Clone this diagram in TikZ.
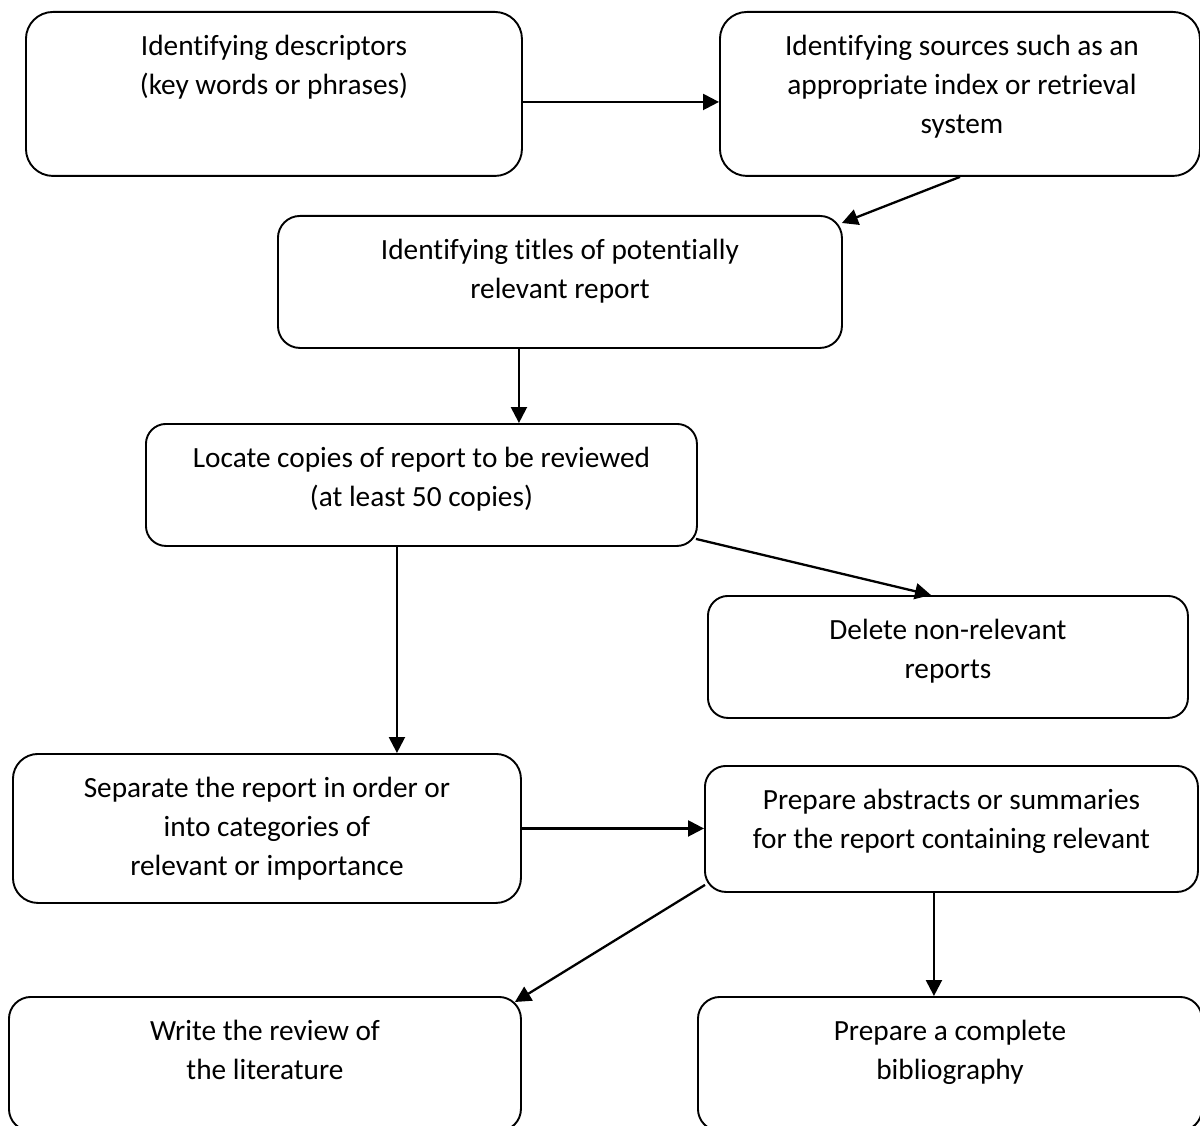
\documentclass[tikz,border=0pt]{standalone}
\usepackage{fontspec}
\setmainfont[Ligatures={NoCommon}]{Carlito}
\usetikzlibrary{arrows.meta,calc}
\tikzset{
  bx/.style={draw, line width=1.9pt, inner sep=0pt, anchor=north west},
  tx/.style={anchor=north, inner sep=0pt, align=center, font=\fontsize{29.3}{39}\selectfont},
  arr/.style={line width=2.3pt, -{Triangle[length=16pt,width=16pt]}}
}
\begin{document}
\begin{tikzpicture}[x=1pt,y=-1pt]
\path[use as bounding box, fill=white] (0,0) rectangle (1200,1126);

% boxes
\node[bx, minimum width=496pt, minimum height=164pt, rounded corners=27pt] (A) at (25,11) {};
\node[bx, minimum width=480pt, minimum height=164pt, rounded corners=27pt] (B) at (719,11) {};
\node[bx, minimum width=564pt, minimum height=132pt, rounded corners=22pt] (C) at (277,215) {};
\node[bx, minimum width=551pt, minimum height=122pt, rounded corners=20pt] (D) at (145,423) {};
\node[bx, minimum width=480pt, minimum height=122pt, rounded corners=20pt] (E) at (707,595) {};
\node[bx, minimum width=508pt, minimum height=149pt, rounded corners=25pt] (F) at (12,753) {};
\node[bx, minimum width=493pt, minimum height=126pt, rounded corners=21pt] (G) at (704,765) {};
\node[bx, minimum width=512pt, minimum height=134pt, rounded corners=22pt] (H) at (8,996) {};
\node[bx, minimum width=504pt, minimum height=134pt, rounded corners=22pt] (I) at (697,996) {};

% texts
\node[tx] (At) at ([yshift=-16.7pt]A.north) {\strut Identifying descriptors\\(key words or phrases)};
\node[tx] (Bt) at ([xshift=2pt,yshift=-16.7pt]B.north) {\strut Identifying sources such as an\\appropriate index or retrieval\\system};
\node[tx] (Ct) at ([yshift=-16.7pt]C.north) {\strut Identifying titles of potentially\\relevant report};
\node[tx] (Dt) at ([yshift=-16.7pt]D.north) {\strut Locate copies of report to be reviewed\\(at least 50 copies)};
\node[tx] (Et) at ([yshift=-16.7pt]E.north) {\strut Delete non-relevant\\reports};
\node[tx] (Ft) at ([yshift=-16.7pt]F.north) {\strut Separate the report in order or\\into categories of\\relevant or importance};
\node[tx] (Gt) at ([yshift=-16.7pt]G.north) {\strut Prepare abstracts or summaries\\for the report containing relevant};
\node[tx] (Ht) at ([yshift=-16.7pt]H.north) {\strut Write the review of\\the literature};
\node[tx] (It) at ([xshift=0pt,yshift=-16.7pt]I.north) {\strut Prepare a complete\\bibliography};

% connectors
\draw[arr] ([yshift=-8pt]A.east) -- ([yshift=-8pt]B.west);
\draw[arr] (B.south) -- ([xshift=-1pt,yshift=-8pt]C.north east);
\draw[arr] ([xshift=-41pt]C.south) -- ([xshift=-41pt]C.south |- D.north);
\draw[arr] ([xshift=-2pt,yshift=8pt]D.south east) -- ([xshift=-17pt]E.north);
\draw[arr] ([xshift=-24.5pt]D.south) -- ([xshift=-24.5pt]D.south |- F.north);
\draw[arr] (F.east) -- (F.east -| G.west);
\draw[arr] ([xshift=1pt,yshift=8pt]G.south west) -- ([xshift=-7pt,yshift=-6pt]H.north east);
\draw[arr] ([xshift=-17.5pt]G.south) -- ([xshift=-17.5pt]G.south |- I.north);
\end{tikzpicture}
\end{document}
